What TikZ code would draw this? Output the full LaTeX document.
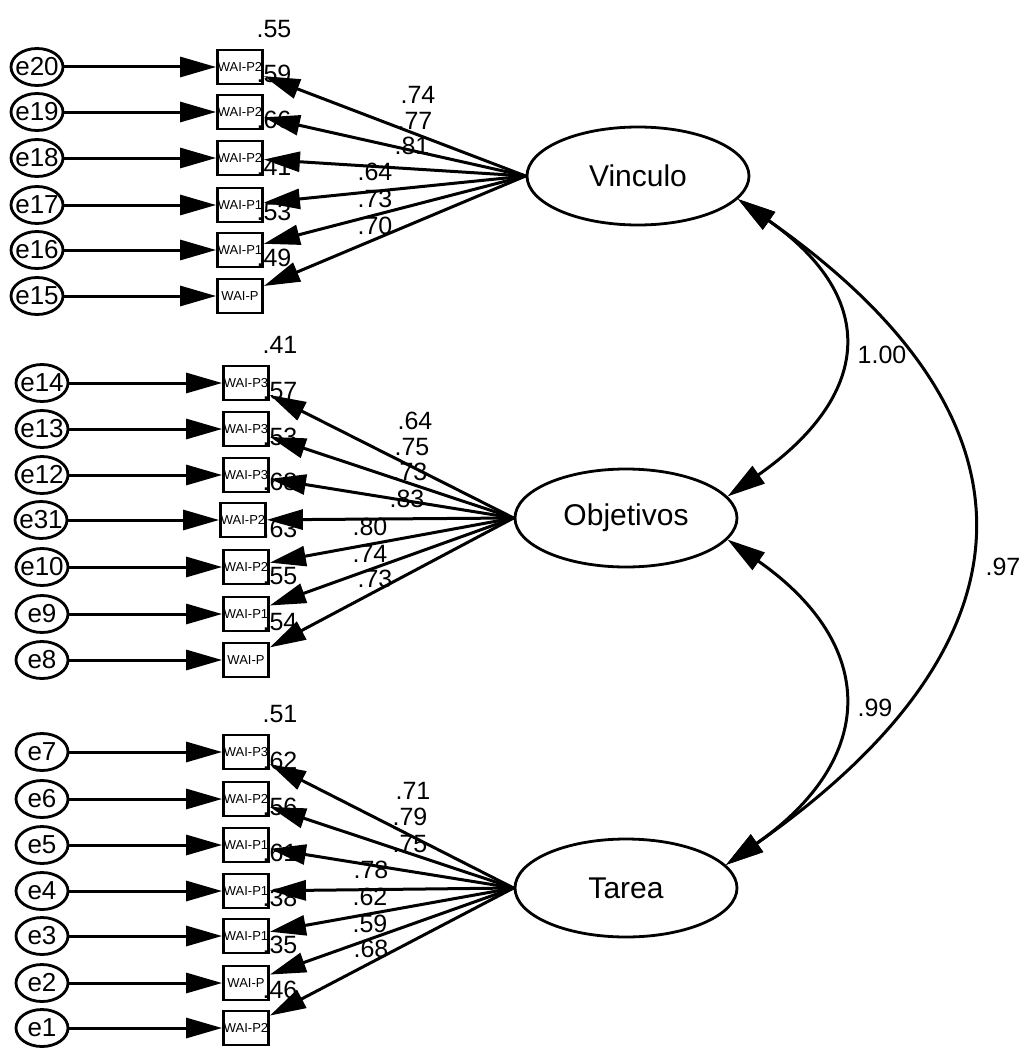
\documentclass[tikz,border=0pt]{standalone}
\usepackage{fontspec}
\setmainfont{Liberation Sans}
\usetikzlibrary{arrows.meta,shapes.geometric}

\begin{document}
\begin{tikzpicture}[x=1pt,y=1pt,
  err/.style={draw,ellipse,line width=2.8pt,minimum width=52pt,minimum height=37pt,inner sep=-4pt,font=\fontsize{26}{26}\selectfont},
  obs/.style={draw,rectangle,line width=2.8pt,minimum width=45pt,minimum height=34pt,inner sep=0pt,font=\fontsize{13}{13}\selectfont},
  lat/.style={draw,ellipse,line width=2.8pt,minimum width=222pt,minimum height=98pt,inner sep=0pt,font=\fontsize{30}{30}\selectfont},
  coef/.style={inner sep=0pt,font=\fontsize{25}{25}\selectfont},
  reg/.style={line width=3pt,-{Triangle[length=36pt,width=20pt]}},
  cov/.style={line width=3pt,{Triangle[length=38pt,width=21pt]}-{Triangle[length=38pt,width=21pt]}}]
\useasboundingbox (0,0) rectangle (1028,-1049);

% latent factors
\node[lat] (V) at (638,-176) {Vinculo};
\node[lat] (O) at (626,-518) {Objetivos};
\node[lat] (T) at (626,-888) {Tarea};

% Vinculo items
\node[obs] (p20) at (240,-67) {WAI-P2};
\node[obs] (p19) at (240,-112) {WAI-P2};
\node[obs] (p18) at (240,-158) {WAI-P2};
\node[obs] (p17) at (240,-205) {WAI-P1};
\node[obs] (p16) at (240,-250) {WAI-P1};
\node[obs] (p15) at (240,-296) {WAI-P};
\node[err] (e20) at (37,-67) {e20};
\node[err] (e19) at (37,-112) {e19};
\node[err] (e18) at (37,-158) {e18};
\node[err] (e17) at (37,-205) {e17};
\node[err] (e16) at (37,-250) {e16};
\node[err] (e15) at (37,-296) {e15};

% Objetivos items
\node[obs] (p14) at (246,-383) {WAI-P3};
\node[obs] (p13) at (246,-429) {WAI-P3};
\node[obs] (p12) at (246,-475) {WAI-P3};
\node[obs] (p31) at (243,-520) {WAI-P2};
\node[obs] (p10) at (246,-567) {WAI-P2};
\node[obs] (p9) at (246,-614) {WAI-P1};
\node[obs] (p8) at (246,-660) {WAI-P};
\node[err] (e14) at (42,-383) {e14};
\node[err] (e13) at (42,-429) {e13};
\node[err] (e12) at (42,-475) {e12};
\node[err] (e31) at (41,-520) {e31};
\node[err] (e10) at (42,-567) {e10};
\node[err] (e9) at (42,-614) {e9};
\node[err] (e8) at (42,-660) {e8};

% Tarea items
\node[obs] (p7) at (246,-752) {WAI-P3};
\node[obs] (p6) at (246,-799) {WAI-P2};
\node[obs] (p5) at (246,-845) {WAI-P1};
\node[obs] (p4) at (246,-891) {WAI-P1};
\node[obs] (p3) at (246,-936) {WAI-P1};
\node[obs] (p2) at (246,-983) {WAI-P};
\node[obs] (p1) at (246,-1028) {WAI-P2};
\node[err] (e7) at (42,-752) {e7};
\node[err] (e6) at (42,-799) {e6};
\node[err] (e5) at (42,-845) {e5};
\node[err] (e4) at (42,-891) {e4};
\node[err] (e3) at (42,-936) {e3};
\node[err] (e2) at (42,-983) {e2};
\node[err] (e1) at (42,-1028) {e1};

% squared multiple correlations
\node[coef] at ([shift={(34,38)}]p20.center) {.55};
\node[coef] at ([shift={(34,38)}]p19.center) {.59};
\node[coef] at ([shift={(34,38)}]p18.center) {.66};
\node[coef] at ([shift={(34,38)}]p17.center) {.41};
\node[coef] at ([shift={(34,38)}]p16.center) {.53};
\node[coef] at ([shift={(34,38)}]p15.center) {.49};
\node[coef] at ([shift={(34,38)}]p14.center) {.41};
\node[coef] at ([shift={(34,38)}]p13.center) {.57};
\node[coef] at ([shift={(34,38)}]p12.center) {.53};
\node[coef] at ([shift={(37,38)}]p31.center) {.68};
\node[coef] at ([shift={(34,38)}]p10.center) {.63};
\node[coef] at ([shift={(34,38)}]p9.center) {.55};
\node[coef] at ([shift={(34,38)}]p8.center) {.54};
\node[coef] at ([shift={(34,38)}]p7.center) {.51};
\node[coef] at ([shift={(34,38)}]p6.center) {.62};
\node[coef] at ([shift={(34,38)}]p5.center) {.56};
\node[coef] at ([shift={(34,38)}]p4.center) {.61};
\node[coef] at ([shift={(34,38)}]p3.center) {.38};
\node[coef] at ([shift={(34,38)}]p2.center) {.35};
\node[coef] at ([shift={(34,38)}]p1.center) {.46};

% loadings
\node[coef] at (418,-95) {.74};
\node[coef] at (415,-121) {.77};
\node[coef] at (412,-146) {.81};
\node[coef] at (375,-172) {.64};
\node[coef] at (375,-199) {.73};
\node[coef] at (375,-226) {.70};
\node[coef] at (415,-421) {.64};
\node[coef] at (412,-447) {.75};
\node[coef] at (410,-472) {.73};
\node[coef] at (407,-499) {.83};
\node[coef] at (370,-527) {.80};
\node[coef] at (370,-554) {.74};
\node[coef] at (375,-579) {.73};
\node[coef] at (413,-791) {.71};
\node[coef] at (410,-817) {.79};
\node[coef] at (410,-844) {.75};
\node[coef] at (371,-870) {.78};
\node[coef] at (370,-897) {.62};
\node[coef] at (370,-924) {.59};
\node[coef] at (371,-949) {.68};

% error paths
\draw[reg] (e20) -- (p20);
\draw[reg] (e19) -- (p19);
\draw[reg] (e18) -- (p18);
\draw[reg] (e17) -- (p17);
\draw[reg] (e16) -- (p16);
\draw[reg] (e15) -- (p15);
\draw[reg] (e14) -- (p14);
\draw[reg] (e13) -- (p13);
\draw[reg] (e12) -- (p12);
\draw[reg] (e31) -- (p31);
\draw[reg] (e10) -- (p10);
\draw[reg] (e9) -- (p9);
\draw[reg] (e8) -- (p8);
\draw[reg] (e7) -- (p7);
\draw[reg] (e6) -- (p6);
\draw[reg] (e5) -- (p5);
\draw[reg] (e4) -- (p4);
\draw[reg] (e3) -- (p3);
\draw[reg] (e2) -- (p2);
\draw[reg] (e1) -- (p1);

% factor paths
\draw[reg] (V.west) -- (p20);
\draw[reg] (V.west) -- (p19);
\draw[reg] (V.west) -- (p18);
\draw[reg] (V.west) -- (p17);
\draw[reg] (V.west) -- (p16);
\draw[reg] (V.west) -- (p15);
\draw[reg] (O.west) -- (p14);
\draw[reg] (O.west) -- (p13);
\draw[reg] (O.west) -- (p12);
\draw[reg] (O.west) -- (p31);
\draw[reg] (O.west) -- (p10);
\draw[reg] (O.west) -- (p9);
\draw[reg] (O.west) -- (p8);
\draw[reg] (T.west) -- (p7);
\draw[reg] (T.west) -- (p6);
\draw[reg] (T.west) -- (p5);
\draw[reg] (T.west) -- (p4);
\draw[reg] (T.west) -- (p3);
\draw[reg] (T.west) -- (p2);
\draw[reg] (T.west) -- (p1);

% covariances
\draw[cov] (V.-13) to[out=-35,in=35,looseness=1.5] (O.12);
\draw[cov] (O.-12) to[out=-35,in=35,looseness=1.45] (T.13);
\draw[cov] (V.-13) to[out=-35,in=35,looseness=1.48] (T.13);
\node[coef] at (882,-355) {1.00};
\node[coef] at (875,-708) {.99};
\node[coef] at (1003,-567) {.97};
\end{tikzpicture}
\end{document}
